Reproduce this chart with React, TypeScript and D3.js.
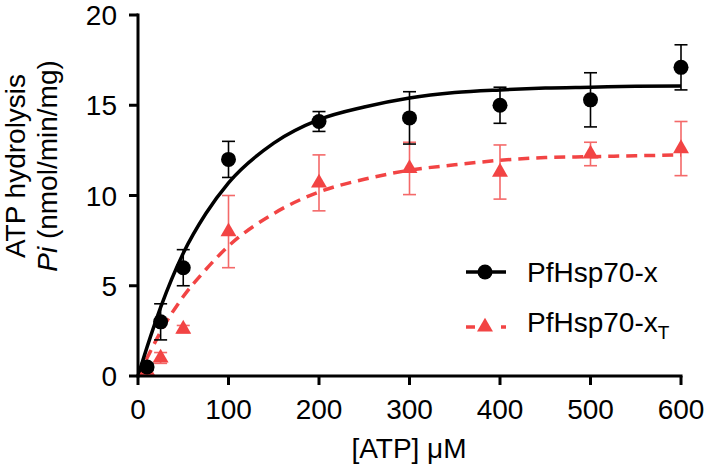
import React from "react";
import * as d3 from "d3";

const atp = [10, 25, 50, 100, 200, 300, 400, 500, 600];
const wtMean = [0.5, 3.0, 6.0, 12.0, 14.1, 14.3, 15.0, 15.3, 17.1];
const wtErr = [0.2, 1.0, 1.0, 1.0, 0.55, 1.45, 1.0, 1.5, 1.25];
const trMean = [0.3, 1.0, 2.6, 8.0, 10.7, 11.5, 11.3, 12.3, 12.6];
const trErr = [0.2, 0.3, 0.2, 2.0, 1.55, 1.45, 1.5, 0.65, 1.5];

const fitX = [0, 10, 25, 50, 75, 100, 150, 200, 250, 300, 350, 400, 450, 500, 550, 600];
const wtFit = [0, 1.6, 3.8, 6.8, 9.0, 10.7, 12.9, 14.2, 14.9, 15.4, 15.7, 15.85, 15.95, 16.0, 16.05, 16.07];
const trFit = [0, 1.0, 2.45, 4.4, 5.9, 7.2, 9.0, 10.2, 10.9, 11.4, 11.7, 11.95, 12.1, 12.15, 12.2, 12.25];

const xTicks = [0, 100, 200, 300, 400, 500, 600];
const yTicks = [0, 5, 10, 15, 20];

const W = 709;
const H = 472;
const RED = "#f24444";
const FONT = "Liberation Sans, Arial, Helvetica, sans-serif";

export default function App() {
  const x = d3.scaleLinear().domain([0, 600]).range([138, 681]);
  const y = d3.scaleLinear().domain([0, 20]).range([376, 15]);
  const mk = (vals: number[]) =>
    d3
      .line<number>()
      .x((_, i) => x(fitX[i]))
      .y((d) => y(d))
      .curve(d3.curveMonotoneX)(vals) as string;
  const wtPath = mk(wtFit);
  const trPath = mk(trFit);
  const tri = d3.symbol(d3.symbolTriangle, 110)() as string;
  const cap = 6.5;

  return (
    <svg width={W} height={H} style={{ position: "absolute", left: 0, top: 0, background: "#fff" }} fontFamily={FONT}>
      <rect width={W} height={H} fill="#fff" />
      <path d={trPath} fill="none" stroke={RED} strokeWidth={3.5} strokeDasharray="11,7" />
      <path d={wtPath} fill="none" stroke="#000" strokeWidth={3.5} />
      {atp.map((a, i) => (
        <g key={"te" + i} stroke={RED} strokeWidth={1.6} opacity={0.8}>
          <line x1={x(a)} x2={x(a)} y1={y(trMean[i] - trErr[i])} y2={y(trMean[i] + trErr[i])} />
          <line x1={x(a) - cap} x2={x(a) + cap} y1={y(trMean[i] - trErr[i])} y2={y(trMean[i] - trErr[i])} />
          <line x1={x(a) - cap} x2={x(a) + cap} y1={y(trMean[i] + trErr[i])} y2={y(trMean[i] + trErr[i])} />
        </g>
      ))}
      {atp.map((a, i) => (
        <path key={"tm" + i} d={tri} transform={`translate(${x(a)},${y(trMean[i])})`} fill={RED} />
      ))}
      {atp.map((a, i) => (
        <g key={"we" + i} stroke="#000" strokeWidth={1.6}>
          <line x1={x(a)} x2={x(a)} y1={y(wtMean[i] - wtErr[i])} y2={y(wtMean[i] + wtErr[i])} />
          <line x1={x(a) - cap} x2={x(a) + cap} y1={y(wtMean[i] - wtErr[i])} y2={y(wtMean[i] - wtErr[i])} />
          <line x1={x(a) - cap} x2={x(a) + cap} y1={y(wtMean[i] + wtErr[i])} y2={y(wtMean[i] + wtErr[i])} />
        </g>
      ))}
      {atp.map((a, i) => (
        <circle key={"wm" + i} cx={x(a)} cy={y(wtMean[i])} r={7.5} fill="#000" />
      ))}
      <line x1={x(0)} x2={x(600) + 1.5} y1={y(0)} y2={y(0)} stroke="#000" strokeWidth={3} />
      <line x1={x(0)} x2={x(0)} y1={y(0) + 1.5} y2={y(20) - 1.5} stroke="#000" strokeWidth={3} />
      {xTicks.map((t) => (
        <g key={"xt" + t}>
          <line x1={x(t)} x2={x(t)} y1={y(0)} y2={y(0) + 9} stroke="#000" strokeWidth={3} />
          <text x={x(t)} y={y(0) + 43} textAnchor="middle" fontSize={28} fill="#000">
            {t}
          </text>
        </g>
      ))}
      {yTicks.map((t) => (
        <g key={"yt" + t}>
          <line x1={x(0) - 9} x2={x(0)} y1={y(t)} y2={y(t)} stroke="#000" strokeWidth={3} />
          <text x={x(0) - 21} y={y(t) + 10} textAnchor="end" fontSize={28} fill="#000">
            {t}
          </text>
        </g>
      ))}
      <text x={409} y={458} textAnchor="middle" fontSize={28} fill="#000">
        [ATP] μM
      </text>
      <g transform="translate(0,166) rotate(-90)">
        <text x={0} y={25} textAnchor="middle" fontSize={28} fill="#000">
          ATP hydrolysis
        </text>
        <text x={0} y={57} textAnchor="middle" fontSize={28} fill="#000">
          <tspan fontStyle="italic">Pi</tspan> (nmol/min/mg)
        </text>
      </g>
      <g>
        <line x1={466} x2={506} y1={272} y2={272} stroke="#000" strokeWidth={3.5} />
        <circle cx={485} cy={272} r={7.5} fill="#000" />
        <text x={527} y={282} fontSize={28} fill="#000">
          PfHsp70-x
        </text>
        <line x1={466} x2={506} y1={327} y2={327} stroke={RED} strokeWidth={3.5} strokeDasharray="9,26" />
        <path d={tri} transform="translate(485,327)" fill={RED} />
        <text x={527} y={332} fontSize={28} fill="#000">
          PfHsp70-x
          <tspan fontSize={19} dy={7}>
            T
          </tspan>
        </text>
      </g>
    </svg>
  );
}
